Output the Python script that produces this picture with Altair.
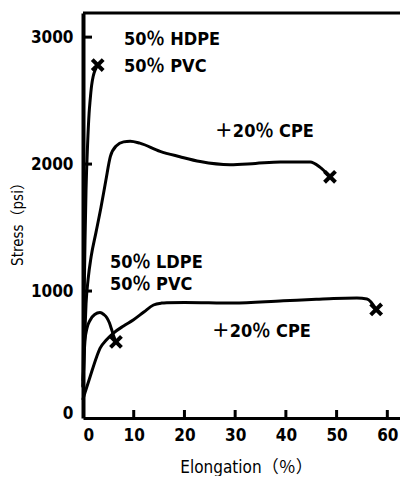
import altair as alt
import pandas as pd

# ---- data ----
c1_x = [0, 0.2, 0.4, 0.6, 0.9, 1.2, 1.4, 1.7, 2.0, 2.5, 2.9]
c1_y = [300, 900, 1400, 1800, 2150, 2400, 2500, 2620, 2690, 2750, 2780]

c2_x = [0, 0.3, 0.6, 1.0, 1.6, 2.55, 3.55, 4.5, 5.4, 6.6, 8.0, 9.3, 11.2, 15.2, 19.1, 23.1, 29.0, 34.0, 38.9, 44.8, 46.7, 48.7]
c2_y = [250, 600, 900, 1090, 1270, 1460, 1660, 1870, 2060, 2145, 2175, 2180, 2165, 2100, 2058, 2020, 1995, 2005, 2016, 2016, 1976, 1900]

c3_x = [0, 0.2, 0.4, 0.8, 1.4, 2.3, 3.35, 4.1, 4.7, 5.2, 5.7, 6.1, 6.5]
c3_y = [250, 480, 614, 710, 770, 815, 830, 815, 790, 750, 690, 640, 600]

c4_x = [0, 0.4, 1.4, 2.7, 3.35, 4.5, 6.0, 8.0, 9.9, 12.0, 13.9, 15.5, 16.5, 20.0, 29.6, 39.5, 46.0, 49.4, 54.0, 56.0, 57.8]
c4_y = [150, 200, 325, 483, 549, 610, 669, 725, 772, 835, 890, 905, 908, 910, 905, 924, 935, 942, 945, 938, 855]

end_x = [2.9, 48.7, 6.5, 57.8]
end_y = [2780, 1900, 600, 855]

label_text = ["50％ HDPE", "50％ PVC", "＋20％ CPE", "50％ LDPE", "50％ PVC", "＋20％ CPE"]
label_x = [8.1, 8.1, 26.0, 5.3, 5.3, 25.4]
label_y = [2937, 2724, 2213, 1181, 1008, 638]

x_ticks = [0, 10, 20, 30, 40, 50, 60]
y_ticks = [0, 1000, 2000, 3000]

# ---- build tables ----
rows = []
for name, xs_, ys_ in [("c1", c1_x, c1_y), ("c2", c2_x, c2_y), ("c3", c3_x, c3_y), ("c4", c4_x, c4_y)]:
    for i, (a, b) in enumerate(zip(xs_, ys_)):
        rows.append({"series": name, "idx": i, "x": a, "y": b})
curves = pd.DataFrame(rows)
ends = pd.DataFrame({"x": end_x, "y": end_y})
labels = pd.DataFrame({"x": label_x, "y": label_y, "t": label_text})
xt = pd.DataFrame({"x": x_ticks[1:]})
yt = pd.DataFrame({"y": y_ticks[1:]})

FONT = "DejaVu Sans Condensed, Liberation Sans, Noto Sans CJK JP, sans-serif"
W, H = 317, 405

xscale = alt.Scale(domain=[0, 62.5], nice=False, zero=False)
yscale = alt.Scale(domain=[0, 3190], nice=False, zero=False)

xaxis = alt.Axis(
    values=x_ticks, ticks=False, tickSize=0, grid=False, format="d",
    domainColor="black", domainWidth=3,
    labelFont=FONT, labelFontSize=17, labelFontWeight="bold", labelColor="black", labelPadding=9,
    title="Elongation（％）", titleFont=FONT, titleFontSize=17, titleFontWeight="normal",
    titleColor="black", titleX=163, titleY=54, titleBaseline="alphabetic", titleAlign="center",
)
yaxis = alt.Axis(
    values=y_ticks, ticks=False, tickSize=0, grid=False, format="d",
    domainColor="black", domainWidth=4,
    labelFont=FONT, labelFontSize=17, labelFontWeight="bold", labelColor="black", labelPadding=10,
    labelBaseline=alt.condition("datum.value == 0", alt.value("alphabetic"), alt.value("middle")),
    title="Stress（psi）", titleFont=FONT, titleFontSize=15, titleFontWeight="normal",
    titleColor="black", titleAngle=270, titleX=-66, titleY=207,
    titleBaseline="middle", titleAlign="center",
)
X = alt.X("x:Q", scale=xscale, axis=xaxis)
Y = alt.Y("y:Q", scale=yscale, axis=yaxis)

lines = alt.Chart(curves).mark_line(
    interpolate="monotone", color="black", strokeWidth=3, strokeCap="round", strokeJoin="round"
).encode(x=X, y=Y, detail="series:N", order="idx:Q")

marks = alt.Chart(ends).mark_point(
    shape="M-1,-1L1,1M1,-1L-1,1", size=120, strokeWidth=4, color="black", opacity=1
).encode(x=X, y=Y)

texts = alt.Chart(labels).mark_text(
    align="left", baseline="alphabetic", font=FONT, fontSize=18, fontWeight="bold", color="black"
).encode(x=X, y=Y, text="t:N")

xtick = alt.Chart(xt).mark_rule(color="black", strokeWidth=3).encode(
    x=X, y=alt.value(H), y2=alt.value(H - 8)
)
ytick = alt.Chart(yt).mark_rule(color="black", strokeWidth=3).encode(
    y=Y, x=alt.value(0), x2=alt.value(9)
)
top = alt.Chart(pd.DataFrame({"a": [0]})).mark_rule(color="black", strokeWidth=3).encode(
    y=alt.value(0), x=alt.value(0), x2=alt.value(W)
)

chart = alt.layer(lines, marks, texts, xtick, ytick, top).properties(
    width=W, height=H,
    autosize=alt.AutoSizeParams(type="none"),
    padding={"left": 75, "top": 5, "right": 0, "bottom": 58},
).configure_view(stroke=None)

chart.save("out.html", embed_options={"renderer": "svg", "actions": False})
